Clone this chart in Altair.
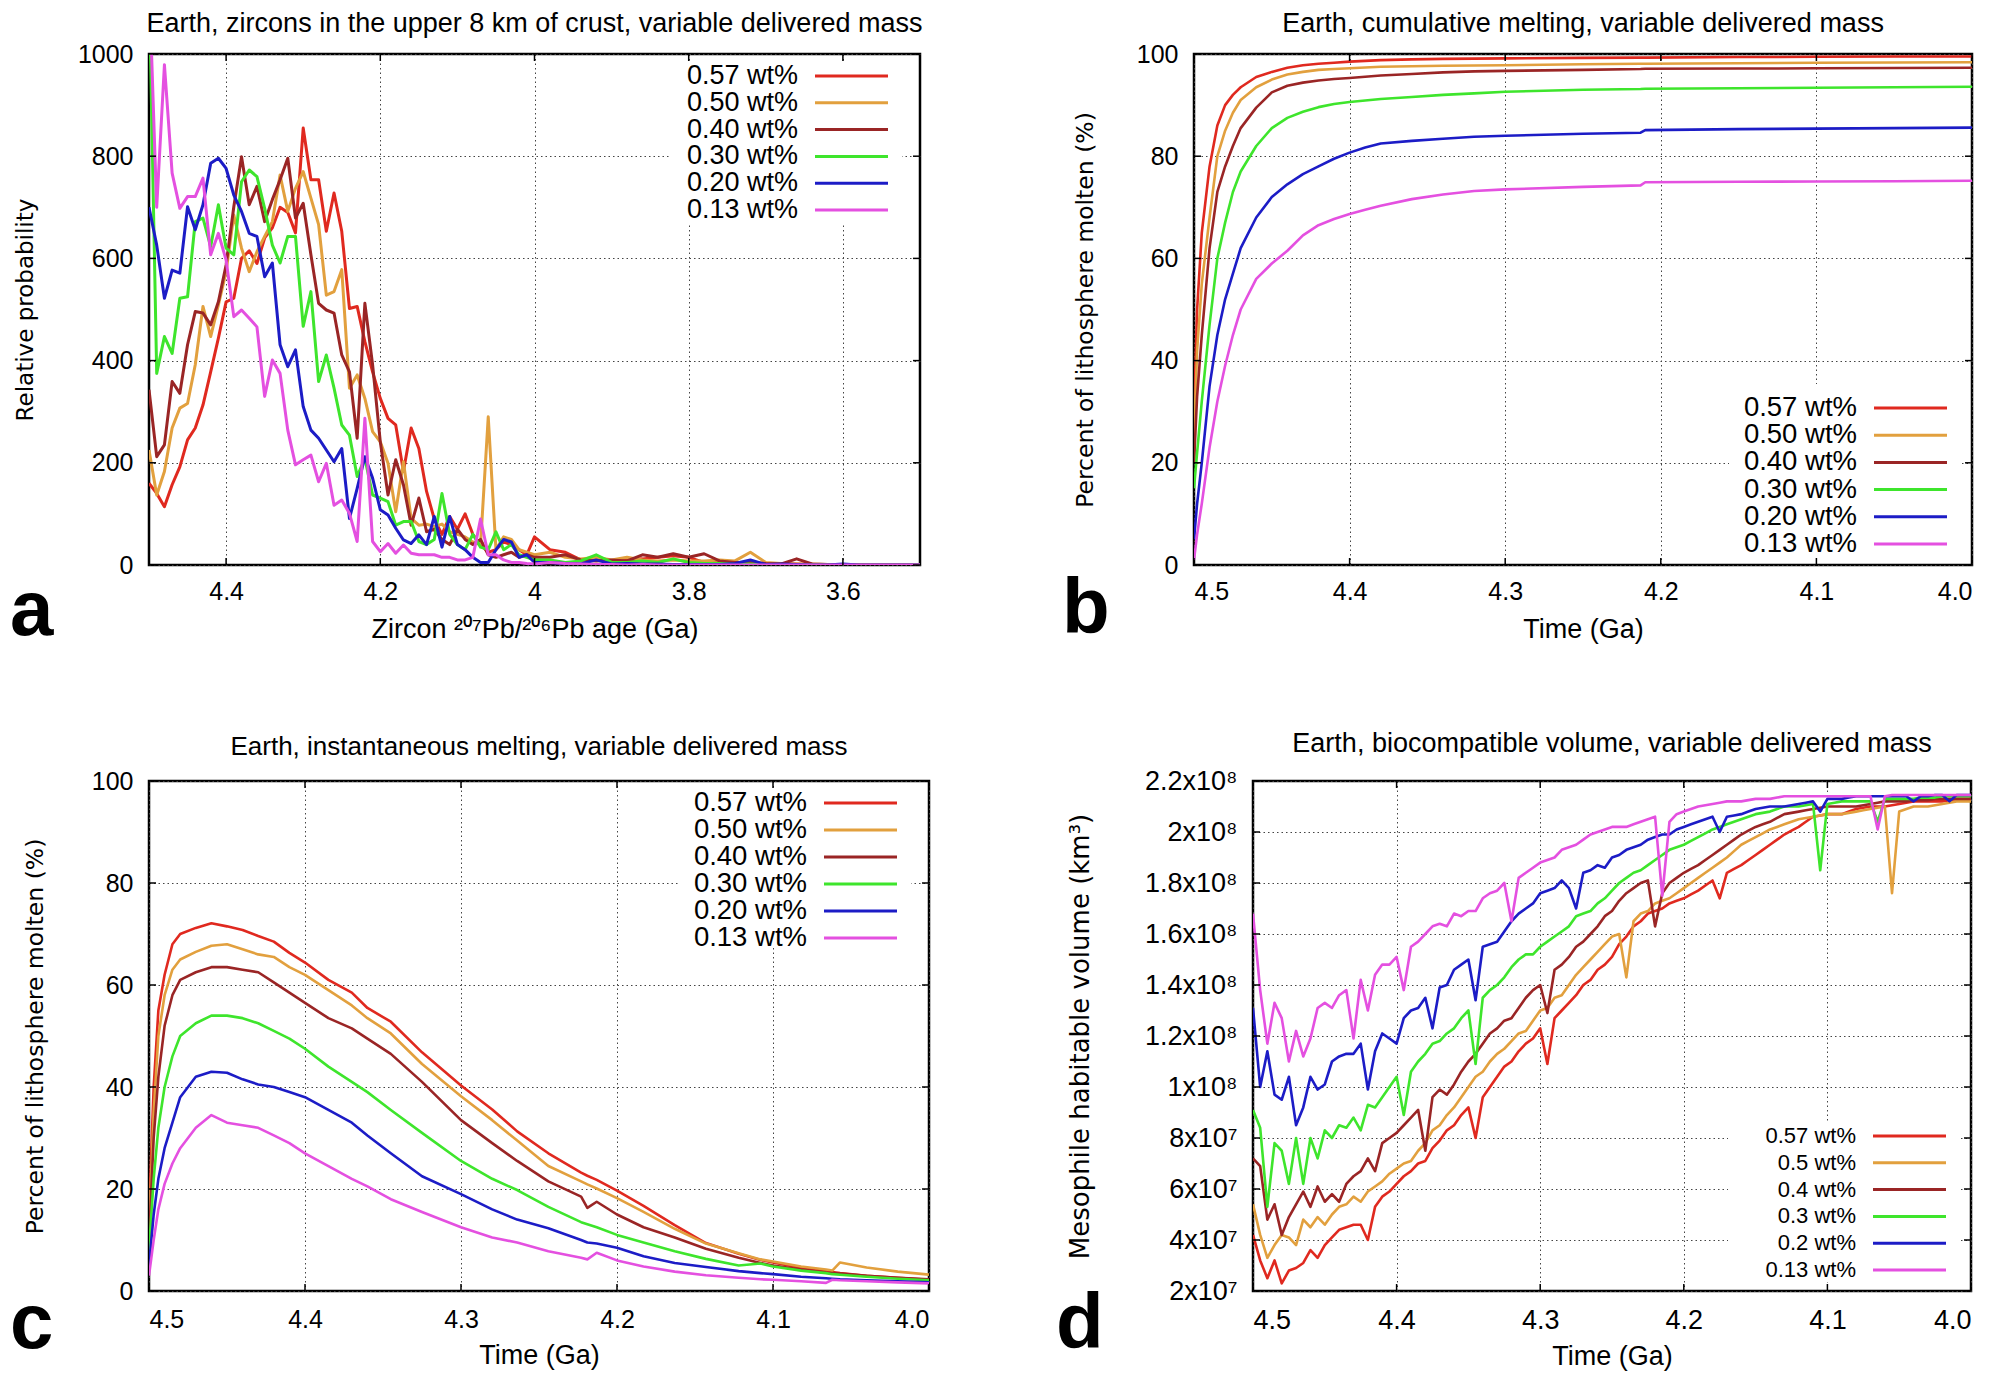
import altair as alt
import pandas as pd

SERIES = ["0.57 wt%", "0.50 wt%", "0.40 wt%", "0.30 wt%", "0.20 wt%", "0.13 wt%"]
SERIES_D = ["0.57 wt%", "0.5 wt%", "0.4 wt%", "0.3 wt%", "0.2 wt%", "0.13 wt%"]
KEYS = ["k0", "k1", "k2", "k3", "k4", "k5"]
COLORS = ["#e0291f", "#e2a03e", "#9a2525", "#3ee52c", "#1c1cc6", "#e450e0"]

# ---------------- panel a : zircon age histograms ----------------
A_AGE = [round(4.50 - 0.01 * i, 2) for i in range(51)] + [round(3.98 - 0.02 * i, 2) for i in range(25)]
A_057 = [160, 140, 114, 157, 192, 245, 268, 313, 378, 444,
         515, 522, 600, 615, 590, 640, 660, 700, 690, 650,
         855, 754, 754, 653, 728, 653, 502, 506, 437, 378,
         326, 287, 274, 183, 268, 228, 144, 90, 60, 95,
         70, 100, 60, 40, 25, 30, 45, 40, 30, 20,
         55,
         30, 25, 10, 12, 8, 10, 12, 15, 18, 15, 5, 5, 5, 3, 2, 3, 2, 1, 1, 0, 1, 0, 0, 0, 0]
A_050 = [225, 137, 183, 268, 307, 316, 392, 506, 447, 509,
         574, 685, 620, 574, 613, 643, 672, 763, 692, 737,
         770, 718, 666, 528, 535, 578, 346, 372, 326, 261,
         241, 199, 104, 202, 91, 78, 80, 75, 80, 65,
         60, 55, 45, 40, 290, 30, 55, 50, 30, 25,
         20,
         25, 15, 12, 15, 10, 15, 10, 8, 10, 8, 8, 10, 8, 25, 5, 3, 2, 2, 1, 1, 0, 0, 0, 0, 0]
A_040 = [343, 212, 235, 359, 336, 431, 496, 493, 470, 515,
         587, 701, 799, 705, 741, 672, 715, 754, 796, 679,
         708, 607, 512, 499, 493, 411, 378, 248, 512, 392,
         241, 137, 206, 157, 78, 131, 65, 70, 50, 40,
         70, 50, 40, 50, 20, 15, 20, 25, 15, 20,
         15,
         15, 20, 10, 8, 10, 8, 20, 15, 22, 15, 22, 8, 5, 5, 3, 2, 12, 2, 1, 1, 0, 0, 0, 0, 0]
A_030 = [1150, 375, 447, 414, 522, 525, 672, 679, 623, 705,
         620, 607, 750, 773, 760, 698, 626, 591, 643, 643,
         467, 535, 359, 411, 346, 274, 254, 173, 209, 137,
         131, 124, 78, 85, 85, 46, 40, 50, 140, 60,
         40, 30, 60, 35, 30, 65, 30, 40, 20, 15,
         10,
         10, 5, 8, 20, 5, 5, 8, 5, 12, 5, 3, 3, 2, 2, 1, 0, 0, 0, 0, 0, 0, 0, 0, 0, 0]
A_020 = [700, 626, 522, 577, 571, 701, 656, 705, 786, 796,
         776, 724, 692, 649, 643, 564, 591, 431, 388, 421,
         310, 264, 248, 225, 202, 228, 91, 150, 212, 170,
         108, 98, 72, 49, 42, 59, 40, 95, 35, 95,
         40, 30, 15, 5, 5, 30, 50, 45, 15, 20,
         5,
         5, 3, 2, 10, 2, 3, 2, 2, 1, 1, 1, 1, 3, 10, 1, 2, 1, 0, 0, 2, 0, 0, 0, 0, 0]
A_013 = [1150, 700, 979, 767, 698, 721, 721, 757, 607, 649,
         597, 486, 499, 483, 466, 330, 401, 375, 264, 196,
         206, 215, 163, 199, 117, 127, 101, 46, 287, 46,
         26, 42, 23, 39, 23, 20, 20, 20, 15, 15,
         10, 10, 15, 90, 20, 20, 10, 5, 5, 3,
         2,
         5, 3, 2, 1, 1, 0, 1, 0, 0, 0, 0, 0, 0, 0, 0, 0, 0, 0, 0, 0, 0, 0, 0, 0, 0]

# ---------------- panel b : cumulative melting ----------------
B_T = [4.5, 4.498, 4.495, 4.49, 4.485, 4.48, 4.475, 4.47, 4.46, 4.45, 4.44, 4.43, 4.42, 4.41,
       4.40, 4.39, 4.38, 4.36, 4.34, 4.32, 4.30, 4.25, 4.213, 4.21, 4.15, 4.10, 4.05, 4.00]
B_057 = [30, 50, 65, 78, 86, 90, 92, 93.5, 95.5, 96.5, 97.3, 97.8, 98.1, 98.3,
         98.5, 98.65, 98.8, 98.95, 99.05, 99.1, 99.15, 99.25, 99.3, 99.3, 99.4, 99.45, 99.5, 99.5]
B_050 = [25, 42, 55, 68, 80, 85, 88.5, 91, 93.5, 95, 96, 96.5, 96.9, 97.05,
         97.2, 97.35, 97.5, 97.6, 97.7, 97.75, 97.8, 98, 98.1, 98.1, 98.2, 98.3, 98.35, 98.4]
B_040 = [20, 33, 45, 62, 73, 78, 82, 85.5, 89.5, 92.5, 93.8, 94.4, 94.8, 95.1,
         95.3, 95.55, 95.8, 96.1, 96.4, 96.6, 96.7, 96.9, 97.05, 97.1, 97.15, 97.2, 97.25, 97.3]
B_030 = [15, 22, 32, 47, 60, 67, 73, 77, 82, 85.5, 87.5, 88.7, 89.6, 90.2,
         90.6, 90.9, 91.2, 91.6, 92, 92.3, 92.6, 93, 93.15, 93.2, 93.3, 93.4, 93.5, 93.6]
B_020 = [5, 12, 20, 35, 45, 52, 57, 62, 68, 72, 74.5, 76.5, 78, 79.5,
         80.7, 81.7, 82.5, 83, 83.4, 83.8, 84, 84.4, 84.6, 85.1, 85.3, 85.4, 85.5, 85.6]
B_013 = [1, 6, 12, 23, 32, 39, 45, 50, 56, 59, 61.5, 64.5, 66.5, 67.7,
         68.7, 69.5, 70.3, 71.6, 72.5, 73.2, 73.5, 74, 74.3, 74.9, 75, 75.05, 75.1, 75.2]

# ---------------- panel c : instantaneous melting ----------------
C_T = [4.5, 4.497, 4.494, 4.49, 4.485, 4.48, 4.47, 4.46, 4.45, 4.44,
       4.43, 4.42, 4.41, 4.40, 4.385, 4.37, 4.36, 4.345, 4.325, 4.3,
       4.28, 4.264, 4.244, 4.223, 4.219, 4.213, 4.2, 4.183, 4.163, 4.143,
       4.122, 4.108, 4.1, 4.082, 4.066, 4.062, 4.057, 4.04, 4.02, 4.0]
C_057 = [15, 40, 55, 62, 68, 70, 71.2, 72.1, 71.5, 70.8,
         69.6, 68.5, 66.3, 64.4, 61, 58.5, 55.5, 52.8, 46.8, 40.3,
         35.6, 31.3, 27, 23.2, 22.6, 21.8, 19.7, 16.7, 12.9, 9.4,
         7.3, 6.1, 5.6, 4.5, 3.9, 3.7, 3.5, 3.0, 2.6, 2.2]
C_050 = [12, 35, 50, 58, 63, 65, 66.5, 67.7, 68, 67,
         66, 65.5, 63.5, 62, 59, 56, 53.5, 50.5, 44.5, 38.2,
         33.5, 29.5, 24.5, 21.5, 20.9, 20.1, 18.2, 15.5, 12.2, 9.3,
         7.4, 6.2, 5.8, 4.8, 4.2, 4.0, 5.6, 4.6, 3.8, 3.2]
C_040 = [10, 30, 42, 52, 58, 61, 62.5, 63.5, 63.5, 63,
         62.5, 60.5, 58.5, 56.5, 53.5, 51.5, 49.5, 46.5, 41, 33.5,
         29, 25.5, 21.5, 18.5, 16.3, 17.5, 15, 12.5, 10.5, 8.3,
         6.5, 5.5, 5, 4.2, 3.6, 3.5, 3.4, 3.0, 2.6, 2.3]
C_030 = [8, 22, 32, 40, 46, 50, 52.5, 54, 54, 53.5,
         52.5, 51, 49.5, 47.5, 44, 41, 39, 35.5, 31, 25.5,
         22, 19.8, 16.5, 13.5, 13.1, 12.5, 11, 9.5, 7.8, 6.3,
         5.0, 5.4, 4.8, 4, 3.5, 3.3, 3.2, 2.8, 2.4, 2.1]
C_020 = [5, 15, 22, 28, 33, 38, 42, 43, 42.8, 41.5,
         40.5, 40, 39, 38, 35.5, 33, 30.5, 27, 22.5, 19,
         16, 14, 12.3, 10, 9.5, 9.3, 8.5, 6.8, 5.5, 4.7,
         3.9, 3.5, 3.3, 2.8, 2.5, 2.4, 2.3, 2.1, 1.9, 1.7]
C_013 = [3, 10, 16, 21, 25, 28, 32, 34.5, 33, 32.5,
         32, 30.5, 29, 27, 24.5, 22, 20.5, 18, 15.5, 12.5,
         10.5, 9.5, 7.8, 6.5, 6.2, 7.5, 6, 4.8, 3.8, 3.1,
         2.6, 2.3, 2.2, 1.9, 1.6, 2.2, 2.1, 1.9, 1.7, 1.5]

# ---------------- panel d : biocompatible volume (units of 1e7 km^3) ----------------
D_T = [round(4.5 - 0.005 * i, 3) for i in range(101)]
D_057 = [4.2, 3.2, 2.5, 3.2, 2.3, 2.8, 2.9, 3.1, 3.6, 3.3,
         3.8, 4.1, 4.4, 4.5, 4.6, 4.6, 4.0, 5.3, 5.7, 5.9,
         6.2, 6.5, 6.7, 7.0, 7.1, 7.6, 7.9, 8.3, 8.5, 8.9,
         9.2, 8.0, 9.6, 10.0, 10.4, 10.8, 11.0, 11.4, 11.7, 11.9,
         12.3, 10.9, 12.7, 13.0, 13.3, 13.6, 14.0, 14.2, 14.6, 14.8,
         15.1, 15.6, 15.9, 16.3, 16.5, 16.8, 16.9, 17.0, 17.2, 17.3,
         17.4, 17.55, 17.7, 17.9, 18.1, 17.4, 18.4, 18.55, 18.7, 18.9,
         19.1, 19.3, 19.5, 19.7, 19.9, 20.05, 20.2, 20.4, 20.6, 20.65,
         20.7, 20.7, 20.7, 20.8, 20.9, 20.95, 21.0, 21.0, 21.0, 21.05,
         21.1, 21.15, 21.2, 21.2, 21.2, 21.2, 21.2, 21.25, 21.3, 21.3,
         21.3]
D_050 = [5.4, 4.2, 3.3, 3.8, 4.2, 4.1, 3.8, 4.8, 4.5, 4.9,
         4.6, 5.0, 5.3, 5.4, 5.7, 5.5, 5.9, 6.1, 6.3, 6.6,
         6.8, 7.0, 7.1, 7.5, 7.8, 8.3, 8.5, 8.9, 9.2, 9.6,
         10.0, 10.4, 10.6, 11.0, 11.3, 11.5, 11.8, 12.1, 12.2, 12.6,
         13.0, 13.1, 13.5, 13.6, 14.0, 14.4, 14.7, 15.0, 15.3, 15.6,
         15.9, 16.0, 14.3, 16.5, 16.8, 16.9, 17.2, 17.3, 17.4, 17.6,
         17.8, 18.0, 18.2, 18.4, 18.6, 18.8, 19.0, 19.25, 19.5, 19.65,
         19.8, 19.95, 20.1, 20.2, 20.3, 20.4, 20.5, 20.55, 20.6, 20.65,
         20.7, 20.7, 20.7, 20.75, 20.8, 20.85, 20.9, 20.95, 21.0, 17.6,
         20.8, 20.9, 21.0, 21.0, 21.0, 21.05, 21.1, 21.15, 21.2, 21.2,
         21.2]
D_040 = [7.2, 6.9, 4.8, 5.4, 4.2, 4.9, 5.4, 5.9, 5.3, 6.1,
         5.5, 5.8, 5.5, 6.2, 6.5, 6.7, 7.2, 6.7, 7.8, 8.0,
         8.2, 8.5, 8.8, 9.1, 7.5, 9.6, 9.9, 9.7, 10.1, 10.6,
         11.0, 11.3, 11.7, 12.1, 12.3, 12.6, 12.7, 13.1, 13.5, 13.8,
         14.0, 12.9, 14.6, 14.8, 15.1, 15.5, 15.7, 16.0, 16.3, 16.7,
         16.9, 17.3, 17.6, 17.8, 18.0, 18.1, 16.3, 17.6, 18.0, 18.2,
         18.4, 18.55, 18.7, 18.9, 19.1, 19.3, 19.5, 19.7, 19.9, 20.05,
         20.2, 20.3, 20.4, 20.55, 20.7, 20.75, 20.8, 20.85, 20.9, 20.95,
         21.0, 21.0, 21.0, 21.0, 21.0, 21.05, 21.1, 21.15, 21.2, 21.2,
         21.2, 21.2, 21.25, 21.25, 21.25, 21.3, 21.3, 21.3, 21.3, 21.3,
         21.3]
D_030 = [9.1, 8.4, 5.3, 7.8, 7.5, 6.2, 8.0, 6.2, 8.0, 7.2,
         8.3, 8.0, 8.5, 8.4, 8.8, 8.3, 9.3, 9.2, 9.6, 10.0,
         10.4, 8.9, 10.6, 11.0, 11.3, 11.7, 11.8, 12.1, 12.3, 12.7,
         13.0, 10.9, 13.5, 13.8, 14.0, 14.3, 14.7, 15.0, 15.2, 15.2,
         15.5, 15.7, 15.9, 16.1, 16.3, 16.7, 16.8, 16.9, 17.2, 17.4,
         17.7, 18.0, 18.2, 18.4, 18.5, 18.7, 18.9, 19.1, 19.3, 19.4,
         19.5, 19.65, 19.8, 19.95, 20.1, 20.2, 20.3, 20.4, 20.5, 20.6,
         20.7, 20.75, 20.8, 20.9, 21.0, 21.0, 21.0, 21.05, 21.1, 18.5,
         21.1, 21.15, 21.2, 21.2, 21.2, 21.2, 21.2, 20.4, 21.3, 21.3,
         21.3, 21.3, 21.3, 21.35, 21.35, 21.35, 21.4, 21.4, 21.4, 21.4,
         21.4]
D_020 = [13.1, 10.0, 11.4, 9.7, 9.5, 10.4, 8.5, 9.2, 10.4, 9.9,
         10.1, 11.0, 11.2, 11.3, 11.3, 11.7, 9.9, 11.4, 12.1, 11.9,
         11.7, 12.7, 13.0, 13.1, 13.5, 12.3, 13.9, 14.0, 14.6, 14.8,
         15.0, 13.4, 15.5, 15.6, 15.7, 16.1, 16.5, 16.8, 17.0, 17.2,
         17.6, 17.7, 17.8, 18.1, 17.8, 17.0, 18.4, 18.5, 18.7, 18.6,
         19.0, 19.1, 19.3, 19.4, 19.5, 19.7, 19.8, 19.9, 19.9, 20.1,
         20.2, 20.3, 20.4, 20.5, 20.6, 20.0, 20.6, 20.65, 20.7, 20.8,
         20.9, 20.95, 21.0, 21.0, 21.0, 21.05, 21.1, 21.15, 21.2, 20.8,
         21.3, 21.3, 21.3, 21.35, 21.4, 21.4, 21.4, 21.4, 21.4, 21.4,
         21.4, 21.4, 21.2, 21.4, 21.4, 21.45, 21.45, 21.2, 21.45, 21.45,
         21.45]
D_013 = [16.8, 13.8, 11.7, 13.3, 12.7, 11.0, 12.2, 11.2, 11.9, 13.1,
         13.3, 13.1, 13.6, 13.8, 11.9, 14.2, 13.0, 14.4, 14.8, 14.8,
         15.1, 13.8, 15.5, 15.7, 16.0, 16.3, 16.4, 16.3, 16.8, 16.7,
         16.9, 16.9, 17.4, 17.6, 17.7, 18.0, 16.5, 18.2, 18.4, 18.6,
         18.8, 18.9, 19.0, 19.3, 19.4, 19.5, 19.7, 19.9, 20.0, 20.1,
         20.2, 20.2, 20.2, 20.3, 20.4, 20.5, 20.6, 17.5, 20.4, 20.7,
         20.8, 20.9, 21.0, 21.05, 21.1, 21.15, 21.2, 21.2, 21.2, 21.25,
         21.3, 21.3, 21.3, 21.35, 21.4, 21.4, 21.4, 21.4, 21.4, 21.4,
         21.4, 21.4, 21.4, 21.4, 21.4, 21.4, 21.4, 20.1, 21.4, 21.45,
         21.45, 21.45, 21.45, 21.45, 21.45, 21.45, 21.45, 21.45, 21.45, 21.45,
         21.45]


def long_df(xs, cols, labels):
    rows = []
    for key, lab, col in zip(KEYS, labels, cols):
        assert len(col) == len(xs), (lab, len(col), len(xs))
        for x, v in zip(xs, col):
            rows.append({"t": x, "v": v, "s": lab, "k": key})
    return pd.DataFrame(rows)


DF_A = long_df(A_AGE, [A_057, A_050, A_040, A_030, A_020, A_013], SERIES)
DF_B = long_df(B_T, [B_057, B_050, B_040, B_030, B_020, B_013], SERIES)
DF_C = long_df(C_T, [C_057, C_050, C_040, C_030, C_020, C_013], SERIES)
DF_D = long_df(D_T, [D_057, D_050, D_040, D_030, D_020, D_013], SERIES_D)

GRID = dict(grid=True, gridDash=[1.5, 3], gridColor="#444444", gridWidth=1, ticks=False, domain=False)
COLOR = alt.Color("k:N", scale=alt.Scale(domain=KEYS, range=COLORS), legend=None)
TICK_LEN = 7


def panel(df, labels, W, H, title, title_size, title_offset, xdom, xvals, xfmt, xtitle,
          xlab_pad, xtitle_pad, tick_size, ydom, yvals, ytitle, ytitle_size, ytitle_pad,
          letter, letter_x, letter_y, leg_y0, leg_dy, leg_font, leg_dx, box_y0, box_y1, stroke,
          ylabel_expr=None):
    xscale = alt.Scale(domain=xdom, reverse=True, nice=False, zero=False)
    yscale = alt.Scale(domain=ydom, nice=False, zero=False)
    yaxis_kw = dict(values=yvals, format="d", labelFont="Liberation Sans", labelFontSize=tick_size,
                    labelColor="black", labelPadding=16, title=ytitle, titleFont="DejaVu Sans",
                    titleFontSize=ytitle_size, titleFontWeight="normal", titleColor="black",
                    titlePadding=ytitle_pad, **GRID)
    if ylabel_expr:
        yaxis_kw["labelExpr"] = ylabel_expr
    xaxis = alt.Axis(values=xvals, format=xfmt, labelFont="Liberation Sans", labelFontSize=tick_size,
                     labelColor="black", labelPadding=xlab_pad, title=xtitle,
                     titleFont="Liberation Sans", titleFontSize=27, titleFontWeight="normal",
                     titleColor="black", titlePadding=xtitle_pad, **GRID)
    lines = alt.Chart(df).mark_line(strokeWidth=stroke, clip=True, strokeJoin="round").encode(
        x=alt.X("t:Q", scale=xscale, axis=xaxis),
        y=alt.Y("v:Q", scale=yscale, axis=alt.Axis(**yaxis_kw)),
        color=COLOR,
    )
    # gnuplot-style inward ticks on all four borders (x scale shared -> same axis spec)
    xt = pd.DataFrame({"t": xvals})
    yt = pd.DataFrame({"v": yvals})
    tx = alt.X("t:Q", scale=xscale, axis=xaxis)
    ty = alt.Y("v:Q", scale=yscale, axis=None)
    tick_style = dict(color="black", strokeWidth=1.5)
    t_bot = alt.Chart(xt).mark_rule(**tick_style).encode(x=tx, y=alt.value(H), y2=alt.value(H - TICK_LEN))
    t_top = alt.Chart(xt).mark_rule(**tick_style).encode(x=tx, y=alt.value(0), y2=alt.value(TICK_LEN))
    t_lft = alt.Chart(yt).mark_rule(**tick_style).encode(y=ty, x=alt.value(0), x2=alt.value(TICK_LEN))
    t_rgt = alt.Chart(yt).mark_rule(**tick_style).encode(y=ty, x=alt.value(W), x2=alt.value(W - TICK_LEN))

    leg = pd.DataFrame({"s": labels, "k": KEYS})
    ys = alt.Y("s:N", scale=alt.Scale(type="point", domain=labels,
                                      range=[leg_y0, leg_y0 + 5 * leg_dy], padding=0), axis=None)
    one = pd.DataFrame({"n": [0]})
    right = W + leg_dx
    box = alt.Chart(one).mark_rect(color="white").encode(
        x=alt.value(right - 250), x2=alt.value(min(W - 9, right - 18)),
        y=alt.value(max(box_y0, 9)), y2=alt.value(min(box_y1, H - 9)))
    txt = alt.Chart(leg).mark_text(align="right", baseline="middle", font="Liberation Sans",
                                   fontSize=leg_font, color="black").encode(
        x=alt.value(right - 122), y=ys, text="s:N")
    sym = alt.Chart(leg).mark_rule(strokeWidth=3).encode(
        x=alt.value(right - 105), x2=alt.value(right - 32), y=ys, color=COLOR)
    let = alt.Chart(one).mark_text(text=letter, align="left", baseline="alphabetic",
                                   font="Liberation Sans", fontSize=78, fontWeight="bold",
                                   color="black").encode(x=alt.value(letter_x), y=alt.value(letter_y))
    return alt.layer(lines, box, t_bot, t_top, t_lft, t_rgt, txt, sym, let).resolve_scale(
        y="independent").properties(
        width=W, height=H,
        title=alt.TitleParams(title, font="Liberation Sans", fontSize=title_size, fontWeight="normal",
                              color="black", anchor="middle", frame="group", offset=title_offset))


B_TICKS = [4.5, 4.4, 4.3, 4.2, 4.1, 4.0]

pa = panel(DF_A, SERIES, 771, 511, "Earth, zircons in the upper 8 km of crust, variable delivered mass", 27, 4,
           [3.5, 4.5], [4.4, 4.2, 4.0, 3.8, 3.6], "~g",
           "Zircon \u00b2\u2070\u2077Pb/\u00b2\u2070\u2076Pb age (Ga)", 14, 12, 25,
           [0, 1000], [0, 200, 400, 600, 800, 1000], "Relative probability", 23, 40,
           "a", -139, 581, 22, 26.8, 27, 0, 0, 169, 3)
pb = panel(DF_B, SERIES, 778, 511, "Earth, cumulative melting, variable delivered mass", 27, 4,
           [4.0, 4.5], B_TICKS, ".1f", "Time (Ga)", 14, 12, 25,
           [0, 100], [0, 20, 40, 60, 80, 100], "Percent of lithosphere molten (%)", 23.5, 39,
           "b", -132, 579, 354, 27.2, 27.5, 7, 330, 511, 2.6)
pc = panel(DF_C, SERIES, 780, 510, "Earth, instantaneous melting, variable delivered mass", 26, 9,
           [4.0, 4.5], B_TICKS, ".1f", "Time (Ga)", 16, 10, 25,
           [0, 100], [0, 20, 40, 60, 80, 100], "Percent of lithosphere molten (%)", 23.5, 44,
           "c", -139, 567, 22, 27, 27.5, 0, 0, 167, 2.6)
pd_ = panel(DF_D, SERIES_D, 718, 510, "Earth, biocompatible volume, variable delivered mass", 27, 9,
            [4.0, 4.5], B_TICKS, ".1f", "Time (Ga)", 16, 10, 27,
            [2, 22], [2, 4, 6, 8, 10, 12, 14, 16, 18, 20, 22], "Mesophile habitable volume (km\u00b3)", 26, 51,
            "d", -197, 567, 355, 26.8, 22, 7, 340, 510, 2.6,
            ylabel_expr="datum.value >= 10 ? format(datum.value / 10, '.1~f') + 'x10\u2078' : format(datum.value, 'd') + 'x10\u2077'")

row1 = alt.hconcat(pa, pb, spacing=136)
row2 = alt.hconcat(pc, pd_, spacing=123)
chart = alt.vconcat(row1, row2, spacing=75).properties(padding=0, background="white").configure_view(
    stroke="black", strokeWidth=2.5)

chart.save("out.html", embed_options={"renderer": "svg", "actions": False})
